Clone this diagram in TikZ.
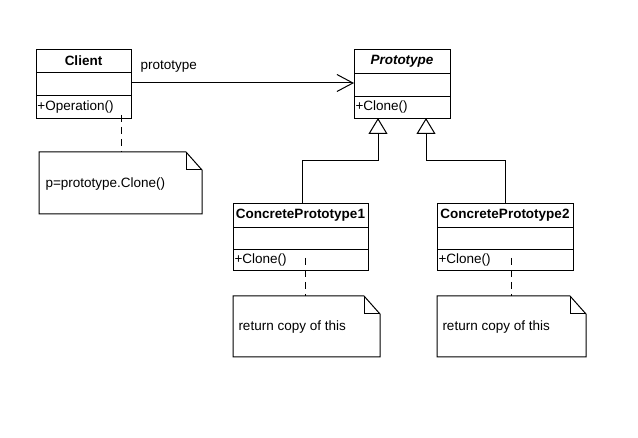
\documentclass[tikz,border=0pt]{standalone}
\usepackage{fontspec}
\setmainfont{Liberation Sans}
\usetikzlibrary{arrows.meta}
\begin{document}
\begin{tikzpicture}[x=1pt,y=-1pt,line width=1pt,
  txt/.style={inner sep=0pt,font=\fontsize{13.5}{15}\selectfont},
  box/.style={draw,fill=white,inner sep=0pt,anchor=north west},
  assoc/.style={-{Straight Barb[length=16pt,width=17pt,line width=1pt]}},
  gen/.style={-{Triangle[open,length=16pt,width=19pt,line width=1pt]}},
  notelink/.style={dashed,dash pattern=on 7pt off 5pt}]
\useasboundingbox (0,0) rectangle (638,438);
\fill[white] (0,0) rectangle (638,438);
% notes
\newcommand{\umlnote}[5]{%
  \draw[fill=white] (#1,#2) -- (#3-16,#2) -- (#3,#2+18) -- (#3,#4) -- (#1,#4) -- cycle;
  \draw (#3-16,#2) -- (#3-16,#2+18) -- (#3,#2+18);
  \coordinate (#5) at ({(#1+#3)/2},#2);}
% Client
\node[box,minimum width=95pt,minimum height=69pt] (client) at (36,49) {};
\draw (36,73) -- (131,73) (36,96) -- (131,96);
\node[txt,font=\fontsize{13.5}{15}\selectfont\bfseries] (clientT) at (83.5,61) {Client};
\node[txt,anchor=west] (clientOp) at (37,107) {+Operation()};
% Prototype
\node[box,minimum width=96pt,minimum height=69pt] (proto) at (354,49) {};
\draw (354,74) -- (450,74) (354,97) -- (450,97);
\node[txt,font=\fontsize{13.5}{15}\selectfont\bfseries\itshape] (protoT) at (402,61) {Prototype};
\node[txt,anchor=west] (protoOp) at (355,107) {+Clone()};
% CP1
\node[box,minimum width=135pt,minimum height=67pt] (cp1) at (233,203) {};
\draw (233,228) -- (368,228) (233,250) -- (368,250);
\node[txt,font=\fontsize{13.5}{15}\selectfont\bfseries] (cp1T) at (300.5,215) {ConcretePrototype1};
\node[txt,anchor=west] (cp1Op) at (234,260) {+Clone()};
% CP2
\node[box,minimum width=136pt,minimum height=67pt] (cp2) at (437,203) {};
\draw (437,228) -- (573,228) (437,250) -- (573,250);
\node[txt,font=\fontsize{13.5}{15}\selectfont\bfseries] (cp2T) at (505,215) {ConcretePrototype2};
\node[txt,anchor=west] (cp2Op) at (438,260) {+Clone()};
% association
\coordinate (aS) at (131,83);
\coordinate (aE) at (354,83);
\draw[assoc] (aS) -- (aE);
\node[txt,anchor=west] (lbl) at (140,67) {prototype};
% generalization
\coordinate (t1) at (378,118);
\coordinate (t2) at (426,118);
\coordinate (c1) at (302,203);
\coordinate (c2) at (505,203);
\draw[gen] (c1) -- (302,161) -- (378,161) -- (t1);
\draw[gen] (c2) -- (505,161) -- (426,161) -- (t2);
% notes
\umlnote{39}{152}{202}{214}{n0}
\node[txt,anchor=west] (n0T) at (45,184) {p=prototype.Clone()};
\umlnote{233}{296}{380}{357}{n1}
\node[txt,anchor=west] (n1T) at (238,327) {return copy of this};
\umlnote{437}{296}{586}{357}{n2}
\node[txt,anchor=west] (n2T) at (442,327) {return copy of this};
% note links
\coordinate (l0) at (121,115);
\coordinate (l0e) at (121,152);
\coordinate (l1) at (305,258);
\coordinate (l1e) at (305,296);
\coordinate (l2) at (511,258);
\coordinate (l2e) at (511,296);
\draw[notelink] (l0) -- (l0e);
\draw[notelink] (l1) -- (l1e);
\draw[notelink] (l2) -- (l2e);
\end{tikzpicture}
\end{document}
